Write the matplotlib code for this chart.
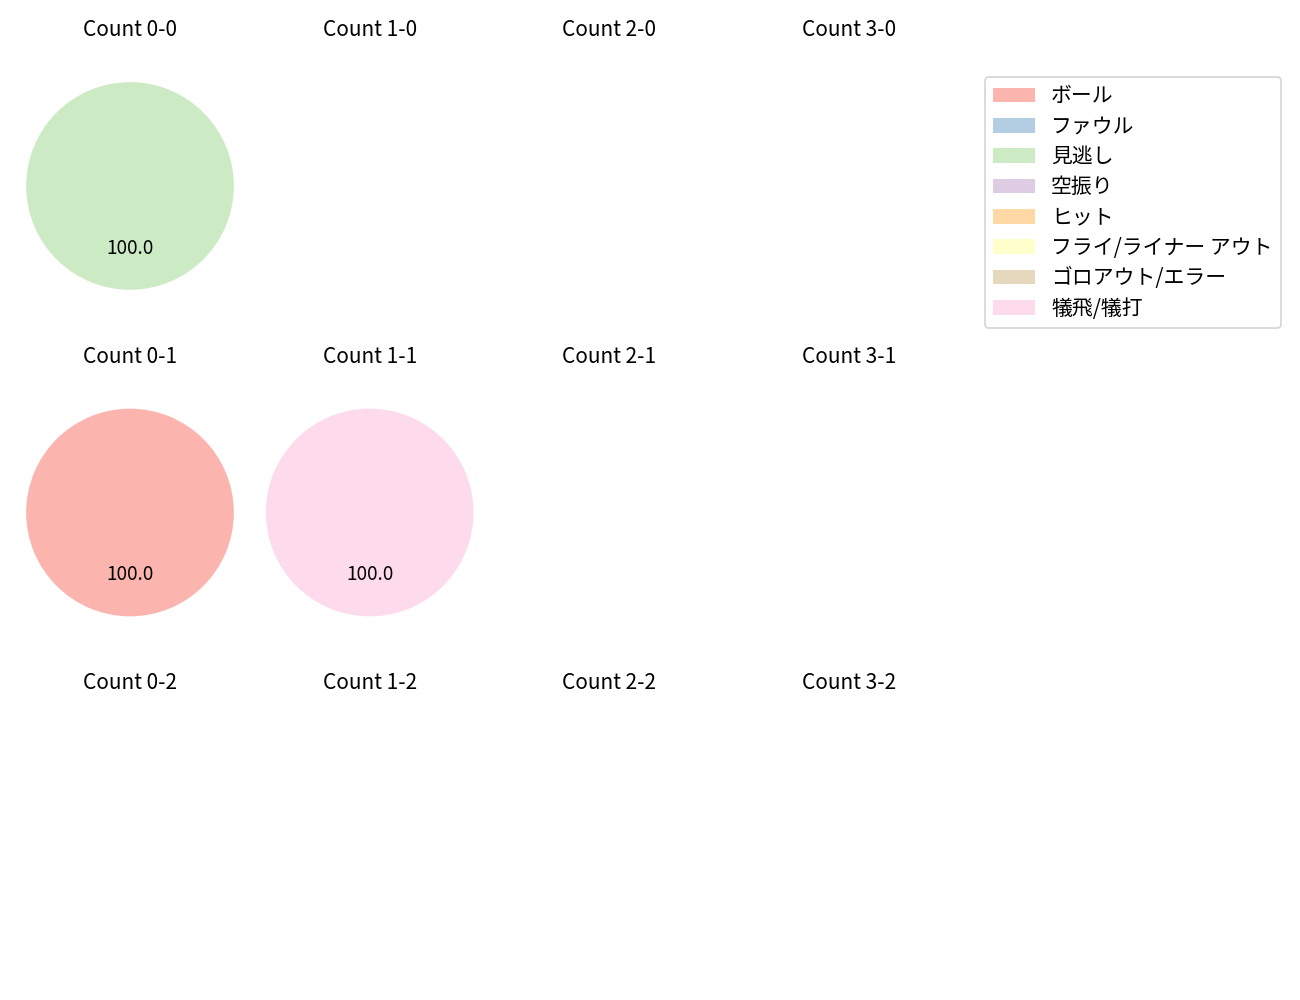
import matplotlib
matplotlib.use("Agg")
import matplotlib.pyplot as plt
from matplotlib.patches import Patch

plt.rcParams['font.family'] = ['Noto Sans CJK JP', 'DejaVu Sans']

categories = ['ボール', 'ファウル', '見逃し', '空振り', 'ヒット',
              'フライ/ライナー アウト', 'ゴロアウト/エラー', '犠飛/犠打']
colors = ['#fbb4ae', '#b3cde3', '#ccebc5', '#decbe4', '#fed9a6',
          '#ffffcc', '#e5d8bd', '#fddaec']

balls = [0, 1, 2, 3]
strikes = [0, 1, 2]

# pitch results per count (balls, strikes): one value per category
count_0_0 = [0, 0, 1, 0, 0, 0, 0, 0]
count_0_1 = [1, 0, 0, 0, 0, 0, 0, 0]
count_1_1 = [0, 0, 0, 0, 0, 0, 0, 1]
results = {(0, 0): count_0_0, (0, 1): count_0_1, (1, 1): count_1_1}

fig, axes = plt.subplots(3, 4, figsize=(10.4, 8), dpi=125)
plt.subplots_adjust(left=0.0154, right=0.7377, wspace=0.0895,
                    top=0.9536, bottom=0.0214, hspace=0.17)

for r, s in enumerate(strikes):
    for c, b in enumerate(balls):
        ax = axes[r, c]
        ax.set_title(f'Count {b}-{s}', fontsize=12)
        vals = results.get((b, s))
        if vals is not None:
            v = [x for x in vals if x > 0]
            cl = [colors[i] for i, x in enumerate(vals) if x > 0]
            ax.pie(v, colors=cl, autopct='%.1f', radius=1.18, startangle=90,
                   textprops={'fontsize': 11})
            ax.set_aspect('equal', adjustable='datalim')
        else:
            ax.axis('off')

handles = [Patch(facecolor=col, label=lab) for col, lab in zip(colors, categories)]
fig.legend(handles=handles, loc='upper right', bbox_to_anchor=(0.9854, 0.923),
           borderaxespad=0, fontsize=12, labelspacing=0.4)

plt.savefig('out.png', dpi=125)
